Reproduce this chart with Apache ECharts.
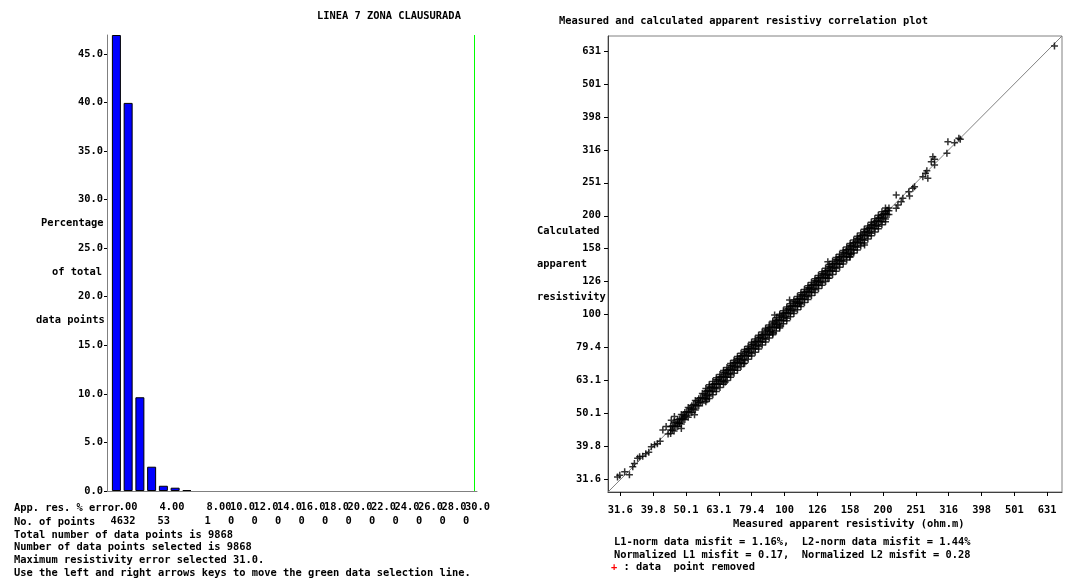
<!DOCTYPE html>
<html><head><meta charset="utf-8">
<script src="https://cdn.jsdelivr.net/npm/echarts@6/dist/echarts.min.js"></script>
<style>html,body{margin:0;padding:0;background:#fff}#c{width:1065px;height:586px}</style>
</head><body><div id="c"></div>
<script>
// ---------- Left panel: histogram of apparent resistivity % error ----------
const errorBinCenters = [0.5, 1.5, 2.5, 3.5, 4.5, 5.5, 6.5];
const errorPercent    = [46.94, 39.95, 9.65, 2.5, 0.54, 0.34, 0.1];
const selectedMaxError = 31.0;
const percentTickValues = [0, 5, 10, 15, 20, 25, 30, 35, 40, 45];
const errorLabelValues = [0, 4, 8, 10, 12, 14, 16, 18, 20, 22, 24, 26, 28, 30];
const errorLabels = ['0.00','4.00','8.00','10.0','12.0','14.0','16.0','18.0','20.0','22.0','24.0','26.0','28.0','30.0'];
const pointCounts = ['4632','53','1','0','0','0','0','0','0','0','0','0','0','0'];
const leftTitle = 'LINEA 7 ZONA CLAUSURADA';
const leftYName = ['Percentage', 'of total', 'data points'];
const leftInfo = [
  'Total number of data points is 9868',
  'Number of data points selected is 9868',
  'Maximum resistivity error selected 31.0.',
  'Use the left and right arrows keys to move the green data selection line.'
];

// ---------- Right panel: measured vs calculated apparent resistivity ----------
const resRange = [29, 700];
const resTickValues = [31.62, 39.81, 50.12, 63.10, 79.43, 100, 125.9, 158.5, 199.5, 251.2, 316.2, 398.1, 501.2, 631.0];
const resTickLabels = ['31.6','39.8','50.1','63.1','79.4','100','126','158','200','251','316','398','501','631'];

// dense band: measured values with calculated values across the band
const bandMeasured = [45.0,46.1,47.3,48.5,49.7,50.9,52.2,53.5,54.8,56.2,57.6,59.0,60.5,62.0,63.6,65.2,66.8,68.5,70.2,71.9,73.7,75.6,77.5,79.4,81.4,83.4,85.5,87.6,89.8,92.1,94.4,96.7,99.2,101.6,104.2,106.8,109.5,112.2,115.0,117.9,120.8,123.8,126.9,130.1,133.4,136.7,140.1,143.6,147.2,150.9,154.7,158.5,162.5,166.6,170.7,175.0,179.4,183.8,188.4,193.1,198.0,203.0,208.0];
const bandCalcUpper = [45.8,47.3,48.0,49.8,50.5,52.3,53.0,54.9,55.6,57.7,58.5,60.4,61.5,63.5,64.7,66.9,67.9,70.1,71.6,73.6,75.0,77.4,78.8,81.4,82.9,85.5,87.0,89.8,91.4,94.4,96.1,99.2,101.0,104.1,106.0,109.4,111.4,115.0,117.0,120.8,122.9,126.8,129.1,133.2,135.7,140.0,142.5,147.0,149.7,154.3,157.4,162.1,165.3,170.2,173.6,178.6,182.4,187.4,191.5,196.6,201.0,206.0,210.6];
const bandCalcCentre = [44.7,46.0,46.9,48.3,49.3,50.8,51.8,53.3,54.3,56.0,57.1,58.8,60.0,61.8,63.0,65.0,66.2,68.3,69.6,71.7,73.0,75.4,76.8,79.1,80.7,83.1,84.7,87.3,89.0,91.8,93.5,96.4,98.3,101.3,103.3,106.4,108.5,111.8,114.0,117.5,119.7,123.4,125.8,129.7,132.2,136.2,138.8,143.1,145.9,150.4,153.3,158.0,161.1,166.1,169.2,174.4,177.8,183.2,186.8,192.4,196.3,202.3,206.5];
const bandCalcLower = [43.6,44.4,45.8,46.6,48.1,48.9,50.5,51.4,53.0,54.0,55.7,56.7,58.5,59.6,61.5,62.6,64.6,65.8,67.9,69.1,71.3,72.6,75.0,76.3,78.7,80.1,82.7,84.2,86.8,88.5,91.3,92.9,95.9,97.6,100.8,102.6,105.9,107.8,111.2,113.3,116.8,119.0,122.7,125.0,129.0,131.4,135.5,138.0,142.3,145.0,149.6,152.3,157.1,160.1,165.1,168.2,173.5,176.6,182.2,185.6,191.5,195.1,201.2];
const midMeasured = [45.55,46.7,47.9,49.1,50.3,51.55,52.85,54.15,55.5,56.9,58.3,59.75,61.25,62.8,64.4,66.0,67.65,69.35,71.05,72.8,74.65,76.55,78.45,80.4,82.4,84.45,86.55,88.7,90.95,93.25,95.55,97.95,100.4,102.9,105.5,108.15,110.85,113.6,116.45,119.35,122.3,125.35,128.5,131.75,135.05,138.4,141.85,145.4,149.05,152.8,156.6,160.5,164.55,168.65,172.85,177.2,181.6,186.1,190.75,195.55,200.5,205.5];
const midCalcA = [46.0,47.2,48.3,49.7,50.8,52.1,53.4,54.8,56.0,57.6,58.9,60.4,61.8,63.6,65.0,66.8,68.3,70.2,71.7,73.7,75.3,77.5,79.2,81.4,83.2,85.5,87.4,89.8,91.8,94.4,96.5,99.1,101.4,104.2,106.5,109.5,111.9,115.0,117.6,120.8,123.5,126.9,129.7,133.4,136.4,140.1,143.2,147.2,150.5,154.7,158.1,162.5,166.1,170.7,174.5,179.4,183.4,188.4,192.6,197.9,202.4,207.5];
const midCalcB = [44.6,45.8,46.9,48.1,49.3,50.5,51.8,53.0,54.4,55.7,57.1,58.5,60.0,61.5,63.1,64.6,66.3,67.9,69.6,71.3,73.2,75.0,76.9,78.8,80.8,82.7,84.8,86.9,89.1,91.4,93.6,96.0,98.4,100.8,103.4,106.0,108.6,111.3,114.1,117.0,119.9,122.8,125.9,129.1,132.3,135.6,139.0,142.5,146.1,149.7,153.5,157.3,161.3,165.3,169.4,173.7,178.0,182.4,186.9,191.6,196.5,201.4];
const wideMeasured = [57.6,59.0,60.5,62.0,63.6,65.2,66.8,68.5,70.2,71.9,73.7,75.6,77.5,79.4,81.4,83.4,85.5,87.6,89.8,92.1,94.4,96.7,99.2,101.6,104.2,106.8,109.5,112.2,115.0,117.9,120.8,123.8,126.9,130.1,133.4,136.7,140.1,143.6,147.2,150.9,154.7,158.5,162.5,166.6,170.7,175.0,179.4,183.8,188.4,193.1,198.0,203.0];
const wideCalcUpper = [59.7,61.3,62.7,64.4,65.9,67.7,69.2,71.1,72.8,74.7,76.4,78.5,80.3,82.5,84.4,86.6,88.6,90.9,93.1,95.6,97.9,100.4,102.8,105.5,108.0,110.9,113.5,116.5,119.2,122.4,125.2,128.5,131.5,135.0,138.3,141.9,145.2,149.1,152.6,156.6,160.4,164.5,168.4,172.9,176.9,181.6,185.9,190.8,195.3,200.4,205.2,210.7];
const wideCalcLower = [54.5,55.7,57.2,58.5,60.2,61.5,63.2,64.6,66.4,67.9,69.7,71.3,73.3,74.9,77.0,78.7,80.9,82.6,85.0,86.9,89.3,91.2,93.8,95.9,98.6,100.8,103.6,105.9,108.8,111.2,114.3,116.8,120.1,122.8,126.2,129.0,132.5,135.5,139.3,142.4,146.4,149.6,153.8,157.2,161.5,165.1,169.7,173.4,178.3,182.2,187.3,191.5];
// sparse low end, edge outliers and sparse high end
const sparseMeasured = [31.0,31.5,32.6,33.7,34.5,34.9,35.7,36.2,37.0,37.8,38.6,39.3,40.2,41.0,41.8,42.6,43.6,44.2,47.9,48.5,49.0,53.2,
  45.2,46.2,93.3,103.6,135.5,92.1,96.6,111.1,135.5,157.7,160.0,175.3,58.0,66.0,75.0,
  218.9,221.4,226.7,229.3,218.9,240.3,239.1,245.9,248.9,273.2,263.8,268.8,271.3,286.4,279.9,286.4,283.0,312.3,314.5,329.6,339.6,343.0,664];
const sparseCalculated = [32.2,32.6,33.4,32.7,34.6,35.4,36.7,37.1,37.2,37.9,38.3,39.8,40.3,40.6,41.3,44.7,45.8,43.5,46.9,45.2,48.5,49.7,
  47.9,49.1,99.8,110.8,144.8,87.8,91.9,108.3,129.0,150.0,153.0,162.7,55.2,62.5,71.0,
  210.2,215.1,220.1,225.4,230.7,229.1,236.0,241.7,244.4,259.2,262.1,268.4,273.3,284.4,291.0,296.0,301.4,308.6,334.6,332.2,342.7,340.4,653];

const rightTitle = 'Measured and calculated apparent resistivy correlation plot';
const rightYName = ['Calculated', 'apparent', 'resistivity'];
const rightXName = 'Measured apparent resistivity (ohm.m)';
const misfitLines = ['L1-norm data misfit = 1.16%,  L2-norm data misfit = 1.44%',
                     'Normalized L1 misfit = 0.17,  Normalized L2 misfit = 0.28'];
const removedNote = ' : data  point removed';

// ---------- build ----------
const FONT = 'DejaVu Sans Mono';
const FS = 10.4;
const lbl = {fontFamily: FONT, fontWeight: 'bold', fontSize: FS, color: '#000'};
function gtext(x, y, text, fill, bg) {
  const st = {text: text, font: 'bold ' + FS + 'px "' + FONT + '"', fill: fill || '#000', align: 'left', verticalAlign: 'middle'};
  if (bg) { st.backgroundColor = bg; st.padding = [3, 0, 3, 0]; }
  return {type: 'text', x: x, y: y, silent: true, z: 100, style: st};
}
function resLabel(v) {
  let best = -1, bd = Infinity;
  resTickValues.forEach((t, i) => { const d = Math.abs(Math.log10(t) - Math.log10(v)); if (d < bd) { bd = d; best = i; } });
  return bd < 0.01 ? resTickLabels[best] : '';
}

const barData = errorBinCenters.map((c, i) => [c, errorPercent[i]]);
const scatterData = [];
bandMeasured.forEach((m, i) => scatterData.push([m, bandCalcUpper[i]], [m, bandCalcCentre[i]], [m, bandCalcLower[i]]));
midMeasured.forEach((m, i) => scatterData.push([m, midCalcA[i]], [m, midCalcB[i]]));
wideMeasured.forEach((m, i) => scatterData.push([m, wideCalcUpper[i]], [m, wideCalcLower[i]]));
sparseMeasured.forEach((m, i) => scatterData.push([m, sparseCalculated[i]]));

const plusPath = 'path://M2.75,0L4.25,0L4.25,2.75L7,2.75L7,4.25L4.25,4.25L4.25,7L2.75,7L2.75,4.25L0,4.25L0,2.75L2.75,2.75Z';

// the error labels overlap each other slightly, so alternate them over two axes
const labelsEven = errorLabelValues.filter((v, i) => i % 2 === 0);
const labelsOdd = errorLabelValues.filter((v, i) => i % 2 === 1);
function errAxis(values, fmtArr, margin, pad, showLine) {
  return {gridIndex: 0, type: 'value', position: 'bottom', min: -0.3, max: 31.2,
    axisLine: {show: showLine, onZero: false, lineStyle: {color: '#808080', width: 1}},
    axisTick: {show: false}, splitLine: {show: false},
    axisLabel: Object.assign({customValues: values, align: 'left', margin: margin, padding: [0, 0, 0, pad],
      formatter: v => fmtArr[errorLabelValues.indexOf(v)] || ''}, lbl)};
}

const graphics = [gtext(317, 16, leftTitle)];
[[41, 223.5], [52, 272], [36, 320]].forEach((p, i) => graphics.push(gtext(p[0], p[1], leftYName[i])));
graphics.push(gtext(14, 508, 'App. res. % error', '#000', '#fff'));
graphics.push(gtext(14, 522, 'No. of points'));
leftInfo.forEach((t, i) => graphics.push(gtext(14, 535 + i * 12.6, t)));
graphics.push(gtext(559, 21, rightTitle));
[231.5, 264, 297].forEach((y, i) => graphics.push(gtext(537, y, rightYName[i])));
graphics.push(gtext(733, 524, rightXName));
misfitLines.forEach((t, i) => graphics.push(gtext(614, 542 + i * 12.8, t)));
graphics.push(gtext(611, 567.5, '+', '#ff0000'));
graphics.push(gtext(611 + FS * 0.602, 567.5, removedNote));

const option = {
  animation: false,
  backgroundColor: '#fff',
  grid: [
    {left: 107, top: 35, width: 370, height: 456, show: false},
    {left: 608, top: 36, width: 454, height: 456, show: true, borderColor: '#808080', borderWidth: 1, backgroundColor: 'transparent'}
  ],
  xAxis: [
    errAxis(labelsEven, errorLabels, 11, 2, true),
    errAxis(labelsOdd, errorLabels, 11, 2, false),
    errAxis(errorLabelValues, pointCounts, 25, 0, false),
    {gridIndex: 1, type: 'log', logBase: 10, position: 'bottom', min: resRange[0], max: resRange[1],
      axisLine: {show: true, onZero: false, lineStyle: {color: '#404040', width: 1}},
      axisTick: {show: true, customValues: resTickValues, length: 4, lineStyle: {color: '#000'}},
      minorTick: {show: false}, splitLine: {show: false},
      axisLabel: Object.assign({customValues: resTickValues, margin: 13, formatter: resLabel}, lbl)}
  ],
  yAxis: [
    {gridIndex: 0, type: 'value', min: 0, max: 'dataMax',
      axisLine: {show: true, onZero: false, lineStyle: {color: '#808080', width: 1}},
      axisTick: {show: true, customValues: percentTickValues, length: 3, lineStyle: {color: '#000'}},
      splitLine: {show: false},
      axisLabel: Object.assign({customValues: percentTickValues, margin: 4, formatter: v => v.toFixed(1)}, lbl)},
    {gridIndex: 1, type: 'log', logBase: 10, min: resRange[0], max: resRange[1],
      axisLine: {show: true, onZero: false, lineStyle: {color: '#404040', width: 1}},
      axisTick: {show: true, customValues: resTickValues, length: 4, lineStyle: {color: '#000'}},
      minorTick: {show: false}, splitLine: {show: false},
      axisLabel: Object.assign({customValues: resTickValues, margin: 7, formatter: resLabel}, lbl)}
  ],
  series: [
    {type: 'bar', xAxisIndex: 0, yAxisIndex: 0, data: barData, barWidth: 9,
      itemStyle: {color: '#0000ff', borderColor: '#000', borderWidth: 1},
      markLine: {silent: true, symbol: ['none', 'none'], label: {show: false},
        lineStyle: {color: '#00ff00', width: 1, type: 'solid'},
        data: [{xAxis: selectedMaxError}]}},
    {type: 'line', xAxisIndex: 3, yAxisIndex: 1, data: [[resRange[0], resRange[0]], [resRange[1], resRange[1]]],
      symbol: 'none', lineStyle: {color: '#808080', width: 1}, z: 1, silent: true},
    {type: 'scatter', xAxisIndex: 3, yAxisIndex: 1, data: scatterData, symbol: plusPath, symbolSize: 7,
      itemStyle: {color: '#000'}, z: 3, silent: true}
  ],
  graphic: graphics
};
const chart = echarts.init(document.getElementById('c'));
chart.setOption(option);
</script>
</body></html>
